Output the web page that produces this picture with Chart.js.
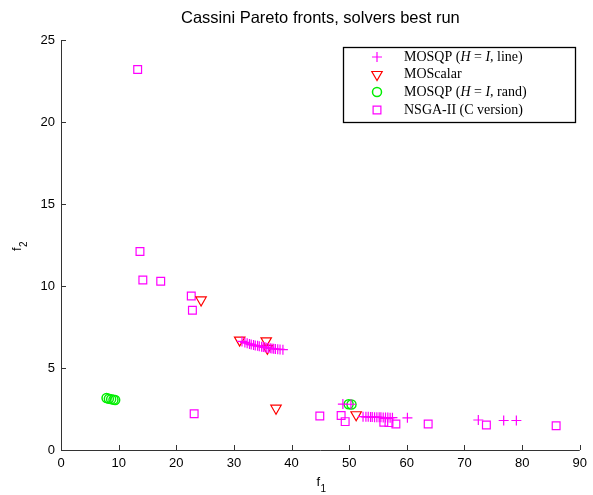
<!DOCTYPE html>
<html>
<head>
<meta charset="utf-8">
<script src="https://cdn.jsdelivr.net/npm/chart.js@4.4.0/dist/chart.umd.min.js"></script>
<style>
  html, body { margin: 0; padding: 0; background: #fff; }
  #wrap { width: 593px; height: 495px; }
</style>
</head>
<body>
<div id="wrap"><canvas id="cv_pareto"></canvas></div>
<script>
// MOSQP (H = I, line)
const lineX = [31.4, 31.9, 32.3, 32.7, 33.0, 33.4, 33.7, 34.1, 34.4, 34.8, 35.1, 35.4, 35.7, 36.0, 36.3, 36.6, 36.9, 37.2, 37.6, 38.0, 38.5,
               48.9, 50.3,
               52.4, 52.9, 53.3, 53.7, 54.0, 54.4, 54.8, 55.2, 55.5, 55.9, 56.3, 56.7, 57.1, 57.5, 60.1, 72.4, 76.8, 79.0];
const lineY = [6.62, 6.56, 6.51, 6.47, 6.43, 6.40, 6.37, 6.35, 6.33, 6.30, 6.28, 6.26, 6.24, 6.22, 6.20, 6.19, 6.17, 6.16, 6.14, 6.13, 6.12,
               2.80, 2.79,
               2.03, 2.02, 2.02, 2.01, 2.01, 2.00, 2.00, 1.99, 1.99, 1.98, 1.98, 1.98, 1.97, 1.97, 1.96, 1.83, 1.80, 1.80];

// MOScalar
const scalarX = [24.3, 31.0, 35.6, 35.8, 37.3, 51.2];
const scalarY = [9.15, 6.70, 6.66, 6.20, 2.55, 2.15];

// MOSQP (H = I, rand)
const randX = [7.9, 8.3, 8.7, 9.1, 9.4, 49.9, 50.4];
const randY = [3.17, 3.12, 3.10, 3.07, 3.05, 2.79, 2.77];

// NSGA-II (C version)
const nsgaX = [13.3, 13.7, 14.2, 17.3, 22.6, 22.8, 23.1, 44.9, 48.6, 49.3, 56.0, 56.9, 58.1, 63.7, 73.8, 85.9];
const nsgaY = [23.2, 12.1, 10.37, 10.29, 9.39, 8.52, 2.21, 2.07, 2.10, 1.73, 1.69, 1.67, 1.59, 1.59, 1.52, 1.48];

const xTicks = [0, 10, 20, 30, 40, 50, 60, 70, 80, 90];
const yTicks = [0, 5, 10, 15, 20, 25];

const legendLabels = [
    [['MOSQP (', 'n'], ['H', 'i'], [' = ', 'n'], ['I', 'i'], [', line)', 'n']],
    [['MOScalar', 'n']],
    [['MOSQP (', 'n'], ['H', 'i'], [' = ', 'n'], ['I', 'i'], [', rand)', 'n']],
    [['NSGA-II (C version)', 'n']]
];

const toPoints = (xs, ys) => xs.map((x, i) => ({x: x, y: ys[i]}));

const datasets = [
    {label: 'line', data: toPoints(lineX, lineY), pointStyle: 'cross', pointRadius: 5, borderColor: '#ff00ff', backgroundColor: 'rgba(0,0,0,0)', pointBorderWidth: 1.2, rotation: 0},
    {label: 'scalar', data: toPoints(scalarX, scalarY), pointStyle: 'triangle', pointRadius: 6, borderColor: '#ff0000', backgroundColor: 'rgba(0,0,0,0)', pointBorderWidth: 1.2, rotation: 180},
    {label: 'rand', data: toPoints(randX, randY), pointStyle: 'circle', pointRadius: 4.5, borderColor: '#00ee00', backgroundColor: 'rgba(0,0,0,0)', pointBorderWidth: 1.5, rotation: 0},
    {label: 'nsga', data: toPoints(nsgaX, nsgaY), pointStyle: 'rect', pointRadius: 5.5, borderColor: '#ff00ff', backgroundColor: 'rgba(0,0,0,0)', pointBorderWidth: 1.2, rotation: 0}
];

const axisColor = '#333';

const matlabAxes = {
    id: 'matlabAxes',
    afterDraw(chart) {
        const ctx = chart.ctx;
        const area = chart.chartArea;
        const xs = chart.scales.x, ys = chart.scales.y;
        ctx.save();
        ctx.strokeStyle = axisColor;
        ctx.lineWidth = 1;
        ctx.beginPath();
        ctx.moveTo(area.left + 0.5, area.top);
        ctx.lineTo(area.left + 0.5, area.bottom + 0.5);
        ctx.lineTo(area.right, area.bottom + 0.5);
        xTicks.forEach(v => {
            const px = Math.round(xs.getPixelForValue(v)) + 0.5;
            ctx.moveTo(px, area.bottom);
            ctx.lineTo(px, area.bottom - 5);
        });
        yTicks.forEach(v => {
            const py = Math.round(ys.getPixelForValue(v)) + 0.5;
            ctx.moveTo(area.left, py);
            ctx.lineTo(area.left + 5, py);
        });
        ctx.stroke();

        // title
        const cx = (area.left + area.right) / 2;
        ctx.fillStyle = '#000';
        ctx.font = '16.5px "Liberation Sans", Arial, sans-serif';
        ctx.textAlign = 'center';
        ctx.textBaseline = 'middle';
        ctx.fillText('Cassini Pareto fronts, solvers best run', cx, 18);

        // axis titles
        ctx.font = '13px "Liberation Sans", Arial, sans-serif';
        ctx.textAlign = 'left';
        ctx.fillText('f', cx - 4, 482);
        ctx.font = '10px "Liberation Sans", Arial, sans-serif';
        ctx.fillText('1', cx, 489);

        ctx.save();
        ctx.translate(17, 247);
        ctx.rotate(-Math.PI / 2);
        ctx.font = '13px "Liberation Sans", Arial, sans-serif';
        ctx.fillText('f', -4, 0);
        ctx.font = '10px "Liberation Sans", Arial, sans-serif';
        ctx.fillText('2', 0, 7);
        ctx.restore();

        // legend
        const bx = 343, by = 47, bw = 232, bh = 75;
        ctx.fillStyle = '#fff';
        ctx.fillRect(bx, by, bw, bh);
        ctx.strokeStyle = '#000';
        ctx.lineWidth = 1.3;
        ctx.strokeRect(bx + 0.5, by + 0.5, bw, bh);
        const rowsY = [57, 74.5, 92, 110];
        legendLabels.forEach((parts, i) => {
            const ds = datasets[i];
            ctx.strokeStyle = ds.borderColor;
            ctx.fillStyle = 'rgba(0,0,0,0)';
            ctx.lineWidth = ds.pointBorderWidth;
            Chart.helpers.drawPoint(ctx, {pointStyle: ds.pointStyle, radius: ds.pointRadius, rotation: ds.rotation, borderWidth: ds.pointBorderWidth}, 377, rowsY[i]);
            ctx.fillStyle = '#000';
            ctx.textBaseline = 'middle';
            ctx.textAlign = 'left';
            let tx = 404;
            parts.forEach(p => {
                ctx.font = (p[1] === 'i' ? 'italic ' : '') + '14px "Liberation Serif", "DejaVu Serif", serif';
                ctx.fillText(p[0], tx, rowsY[i]);
                tx += ctx.measureText(p[0]).width;
            });
        });
        ctx.restore();
    }
};

new Chart(document.getElementById('cv_pareto').getContext('2d'), {
    type: 'scatter',
    data: {datasets: datasets},
    options: {
        responsive: true,
        maintainAspectRatio: false,
        animation: false,
        layout: {padding: {left: 0, right: 11, top: 40, bottom: 0}},
        plugins: {
            legend: {display: false},
            tooltip: {enabled: false}
        },
        scales: {
            x: {
                type: 'linear',
                min: 0,
                max: 90,
                afterFit: (scale) => { scale.height = 45; },
                afterBuildTicks: (scale) => { scale.ticks = xTicks.map(v => ({value: v})); },
                grid: {display: false, drawTicks: false},
                border: {display: false},
                ticks: {color: '#000', padding: 6, maxRotation: 0, font: {family: '"Liberation Sans", Arial, sans-serif', size: 13}}
            },
            y: {
                type: 'linear',
                min: 0,
                max: 25,
                afterFit: (scale) => { scale.width = 61; },
                afterBuildTicks: (scale) => { scale.ticks = yTicks.map(v => ({value: v})); },
                grid: {display: false, drawTicks: false},
                border: {display: false},
                ticks: {color: '#000', padding: 6, font: {family: '"Liberation Sans", Arial, sans-serif', size: 13}}
            }
        }
    },
    plugins: [matlabAxes]
});
</script>
</body>
</html>
